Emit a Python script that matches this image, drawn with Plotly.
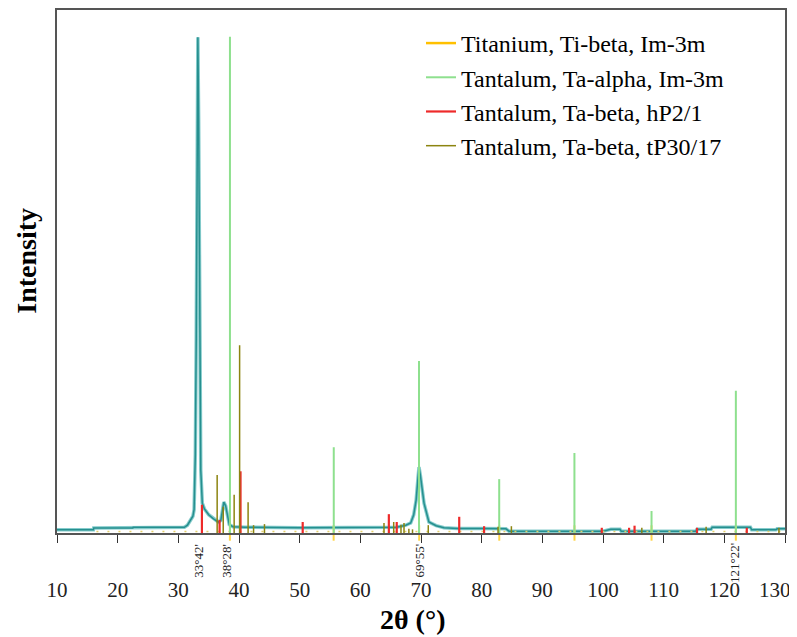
import plotly.graph_objects as go

# ---------------- data ----------------
# measured XRD pattern (2theta in degrees, intensity in % of axis height)
curve_2theta = [10, 16, 16.05, 22.5, 22.55, 31.0, 31.5, 32.0, 32.4, 32.6, 32.8, 32.95, 33.1, 33.22,
                33.35, 33.5, 33.7, 33.95, 34.3, 35.0, 35.8, 36.6, 37.0, 37.3, 37.5, 37.8, 38.1, 38.4,
                39.0, 41.0, 50.0, 64.0, 66.0, 67.5, 68.3, 68.8, 69.2, 69.5, 69.67, 69.9, 70.2, 70.5,
                71.3, 72.5, 73.8, 76.0, 80.0, 84.0, 84.5, 100.0, 101.3, 102.8, 103.0, 115.3, 115.5,
                117.8, 118.0, 124.3, 124.5, 128.5, 128.7, 130.0]
curve_int = [0.6, 0.6, 0.95, 0.95, 1.1, 1.1, 1.5, 2.4, 3.2, 4.5, 15, 37, 79, 94.8,
             79, 37, 12, 5.7, 4.6, 3.5, 2.7, 2.1, 2.4, 4.5, 5.9, 5.2, 3.0, 1.6,
             1.2, 1.1, 1.0, 1.0, 1.1, 1.5, 1.9, 3.5, 6.3, 10.5, 12.6, 11.0, 8.0, 5.7,
             2.1, 1.4, 1.0, 0.85, 0.85, 0.8, 0.35, 0.35, 0.7, 0.7, 0.35, 0.35, 0.7,
             0.7, 1.1, 1.1, 0.6, 0.6, 0.8, 0.8]

# reference patterns (stick positions and heights)
ti_beta_pos = [38.5, 55.6, 69.7, 82.9, 95.3, 108.0, 121.9]
ti_beta_base = [0, 0, 0, 0, 0, 0, 0]
ti_dots_x = [16.5, 130.0]
ti_dots_y = [0.3, 0.3]

ta_alpha_pos = [38.51, 55.62, 69.67, 82.89, 95.29, 108.0, 121.9]
ta_alpha_int = [94.9, 16.4, 32.9, 10.3, 15.3, 4.2, 27.2]

ta_beta_h_pos = [33.89, 36.8, 40.25, 50.5, 64.7, 66.0, 76.3, 80.4, 99.8, 104.3, 105.2, 115.5, 123.7]
ta_beta_h_int = [5.4, 2.5, 11.8, 2.1, 3.6, 2.1, 3.1, 1.3, 1.0, 1.0, 1.4, 1.0, 1.0]

ta_beta_t_pos = [36.4, 37.4, 39.2, 40.1, 41.5, 42.4, 44.2, 63.9, 65.5, 66.7, 67.2, 68.0, 68.6,
                 71.2, 82.7, 84.9, 106.4, 117.0, 129.0]
ta_beta_t_int = [11.1, 5.0, 7.3, 35.9, 5.9, 1.5, 1.7, 1.9, 2.1, 1.6, 1.9, 0.8, 0.7,
                 1.5, 1.2, 1.3, 1.0, 1.2, 1.0]

peak_labels = ["33°42'", "38°28'", "69°55'", "121°22'"]
peak_label_pos = [33.3, 37.9, 69.7, 121.7]

x_ticks = list(range(10, 131, 10))
# last label (130) sits at the frame edge, drawn right-aligned separately
x_tick_text = [str(t) for t in x_ticks[:-1]] + [""]
last_tick = x_ticks[-1]

legend_names = ["Titanium, Ti-beta, Im-3m", "Tantalum, Ta-alpha, Im-3m",
                "Tantalum, Ta-beta, hP2/1", "Tantalum, Ta-beta, tP30/17"]


def sticks(pos, hts):
    xs, ys = [], []
    for p, h in zip(pos, hts):
        xs += [p, p, None]
        ys += [0, h, None]
    return xs, ys


SERIF = "Liberation Serif"

fig = go.Figure()

# measured curve (light halo + darker core)
fig.add_trace(go.Scatter(x=curve_2theta, y=curve_int, mode="lines",
                         line=dict(color="#86cccc", width=3.5), showlegend=False,
                         hoverinfo="skip"))
fig.add_trace(go.Scatter(x=curve_2theta, y=curve_int, mode="lines",
                         line=dict(color="#268f8f", width=1.5), showlegend=False,
                         hoverinfo="skip"))

# Ti-beta: dotted baseline marks + short ticks across the axis
fig.add_trace(go.Scatter(x=ti_dots_x, y=ti_dots_y, mode="lines",
                         line=dict(color="#e3cf6a", width=1.5, dash="2px,9px"),
                         showlegend=False, hoverinfo="skip"))
fig.add_trace(go.Scatter(x=ti_beta_pos, y=ti_beta_base, mode="markers",
                         marker=dict(symbol="line-ns", size=11,
                                     line=dict(color="#ffd54a", width=2)),
                         cliponaxis=False, showlegend=False, hoverinfo="skip"))
fig.add_trace(go.Scatter(x=[None], y=[None], mode="lines", name=legend_names[0],
                         line=dict(color="#ffc000", width=2.5)))

olive_x, olive_y = sticks(ta_beta_t_pos, ta_beta_t_int)
xs, ys = sticks(ta_alpha_pos, ta_alpha_int)
fig.add_trace(go.Scatter(x=xs, y=ys, mode="lines", name=legend_names[1],
                         line=dict(color="#8ee08e", width=2), hoverinfo="skip"))
xs, ys = sticks(ta_beta_h_pos, ta_beta_h_int)
fig.add_trace(go.Scatter(x=xs, y=ys, mode="lines", name=legend_names[2],
                         line=dict(color="#ee2a2a", width=2.2), hoverinfo="skip"))
fig.add_trace(go.Scatter(x=olive_x, y=olive_y, mode="lines", name=legend_names[3],
                         line=dict(color="#8c8410", width=1.5), hoverinfo="skip"))

for lab, p in zip(peak_labels, peak_label_pos):
    fig.add_annotation(x=p, xref="x", y=-0.016, yref="paper", text=lab,
                       textangle=-90, showarrow=False, xanchor="center", yanchor="top",
                       font=dict(family=SERIF, size=13, color="#222"))

fig.add_annotation(x=last_tick, xref="x", y=-0.109, yref="paper", text=str(last_tick),
                   showarrow=False, xanchor="right", yanchor="middle", xshift=8,
                   font=dict(family=SERIF, size=21, color="#222"))

fig.add_annotation(x=0.489, xref="paper", y=-0.166, yref="paper",
                   text="<b>2θ (°)</b>", showarrow=False, xanchor="center", yanchor="middle",
                   font=dict(family=SERIF, size=28, color="black"))
fig.add_annotation(x=-0.043, xref="paper", y=0.52, yref="paper",
                   text="<b>Intensity</b>", textangle=-90, showarrow=False,
                   xanchor="center", yanchor="middle",
                   font=dict(family=SERIF, size=28, color="black"))

fig.update_layout(
    width=789, height=629,
    margin=dict(l=49, r=12, t=2, b=104, autoexpand=False),
    paper_bgcolor="white", plot_bgcolor="white",
    font=dict(family=SERIF, color="black"),
    showlegend=True,
    legend=dict(x=0.5, y=0.979, xanchor="left", yanchor="top",
                font=dict(family=SERIF, size=24, color="black"),
                bgcolor="rgba(0,0,0,0)", borderwidth=0),
    xaxis=dict(range=[10, 130], tickvals=x_ticks, ticktext=x_tick_text,
               ticks="outside", ticklen=8, tickcolor="#333", tickwidth=1.2,
               showline=True, linecolor="#555", linewidth=1.5, mirror=True,
               showgrid=False, zeroline=False, ticklabelstandoff=29,
               ticklabeloverflow="allow", automargin=False,
               tickfont=dict(family=SERIF, size=21, color="#222")),
    yaxis=dict(range=[0, 100], showticklabels=False, ticks="", automargin=False,
               showline=True, linecolor="#555", linewidth=1.5, mirror=True,
               showgrid=False, zeroline=False),
)

fig.write_html("out.html")
